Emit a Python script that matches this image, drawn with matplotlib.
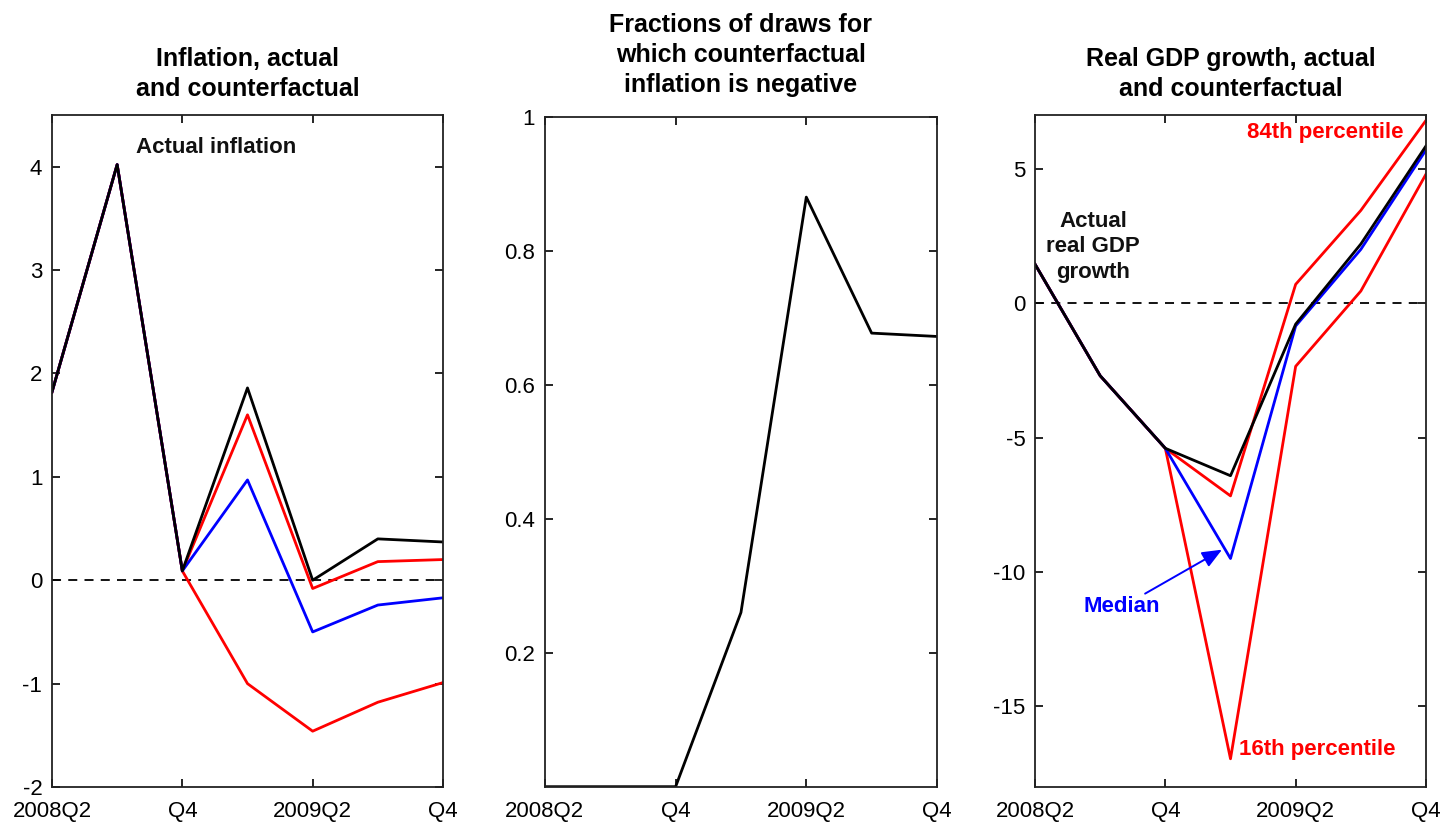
import matplotlib
matplotlib.use("Agg")
import matplotlib.pyplot as plt

plt.rcParams['font.family'] = ['Liberation Sans', 'DejaVu Sans']
plt.rcParams['axes.unicode_minus'] = False

# quarters 2008Q2 .. 2009Q4
quarters = list(range(7))
tick_pos = [0, 2, 4, 6]
tick_labels = ["2008Q2", "Q4", "2009Q2", "Q4"]

# inflation: actual and counterfactual bands
infl_actual = [1.82, 4.02, 0.09, 1.86, 0.00, 0.40, 0.37]
infl_p84 = [1.82, 4.02, 0.09, 1.60, -0.08, 0.18, 0.20]
infl_median = [1.82, 4.02, 0.09, 0.97, -0.50, -0.24, -0.17]
infl_p16 = [1.82, 4.02, 0.09, -1.00, -1.46, -1.18, -0.99]

# share of draws with negative counterfactual inflation
frac_negative = [0.0, 0.0, 0.0, 0.26, 0.88, 0.677, 0.672]

# real GDP growth: actual and counterfactual bands
gdp_actual = [1.45, -2.70, -5.40, -6.42, -0.78, 2.20, 5.85]
gdp_p84 = [1.45, -2.70, -5.40, -7.17, 0.70, 3.45, 6.80]
gdp_median = [1.45, -2.70, -5.40, -9.50, -0.85, 2.00, 5.70]
gdp_p16 = [1.45, -2.70, -5.40, -16.95, -2.35, 0.45, 4.80]

RED = "#ff0000"
BLUE = "#0000ff"
LW = 2.0
FS_TICK = 16
FS_TITLE = 18

fig = plt.figure(figsize=(14.52, 8.26), dpi=100)
ax1 = fig.add_axes([0.0358, 0.0472, 0.2693, 0.8136])
ax2 = fig.add_axes([0.3753, 0.0476, 0.2700, 0.8111])
ax3 = fig.add_axes([0.7128, 0.0472, 0.2693, 0.8136])


def style(ax):
    ax.set_xlim(0, 6)
    ax.set_xticks(tick_pos)
    ax.set_xticklabels(tick_labels)
    ax.tick_params(direction="in", top=True, right=True, length=6, width=1.2,
                   labelsize=FS_TICK)
    ax.tick_params(axis="x", pad=10)
    ax.tick_params(axis="y", pad=7)
    for s in ax.spines.values():
        s.set_linewidth(1.3)
        s.set_color("#222222")


# ----- left: inflation -----
ax1.axhline(0, color="black", lw=1.3, ls=(0, (5, 4)))
ax1.plot(quarters, infl_p16, color=RED, lw=LW)
ax1.plot(quarters, infl_p84, color=RED, lw=LW)
ax1.plot(quarters, infl_median, color=BLUE, lw=LW)
ax1.plot(quarters, infl_actual, color="black", lw=LW)
ax1.set_ylim(-2, 4.5)
ax1.set_yticks([-2, -1, 0, 1, 2, 3, 4])
style(ax1)
ax1.set_title("Inflation, actual\nand counterfactual", fontsize=FS_TITLE,
              fontweight="bold", pad=14, linespacing=1.3)
ax1.text(2.52, 4.19, "Actual inflation", fontsize=FS_TICK, fontweight="bold",
         ha="center", va="center", color="#111111")

# ----- middle: fraction of negative draws -----
ax2.plot(quarters, frac_negative, color="black", lw=LW)
ax2.set_ylim(0, 1)
ax2.set_yticks([0.2, 0.4, 0.6, 0.8, 1])
ax2.set_yticklabels(["0.2", "0.4", "0.6", "0.8", "1"])
style(ax2)
ax2.set_title("Fractions of draws for\nwhich counterfactual\ninflation is negative",
              fontsize=FS_TITLE, fontweight="bold", pad=18, linespacing=1.3)

# ----- right: real GDP growth -----
ax3.axhline(0, color="black", lw=1.3, ls=(0, (5, 4)))
ax3.plot(quarters, gdp_p16, color=RED, lw=LW)
ax3.plot(quarters, gdp_p84, color=RED, lw=LW)
ax3.plot(quarters, gdp_median, color=BLUE, lw=LW)
ax3.plot(quarters, gdp_actual, color="black", lw=LW)
ax3.set_ylim(-18, 7)
ax3.set_yticks([-15, -10, -5, 0, 5])
style(ax3)
ax3.set_title("Real GDP growth, actual\nand counterfactual", fontsize=FS_TITLE,
              fontweight="bold", pad=14, linespacing=1.3)

ax3.text(5.65, 6.33, "84th percentile", fontsize=FS_TICK, fontweight="bold",
         color=RED, ha="right", va="center")
ax3.text(3.13, -16.6, "16th percentile", fontsize=FS_TICK, fontweight="bold",
         color=RED, ha="left", va="center")
ax3.text(0.89, 2.09, "Actual\nreal GDP\ngrowth", fontsize=FS_TICK,
         fontweight="bold", color="#111111", ha="center", va="center",
         linespacing=1.3)
ax3.annotate("Median", xy=(2.87, -9.17), xytext=(1.92, -11.3),
             fontsize=FS_TICK, fontweight="bold", color=BLUE,
             ha="right", va="center",
             arrowprops=dict(arrowstyle="-|>,head_length=0.6,head_width=0.25",
                             color=BLUE, lw=1.4, mutation_scale=20,
                             shrinkA=0, shrinkB=0))

fig.savefig("out.png", dpi=100)
